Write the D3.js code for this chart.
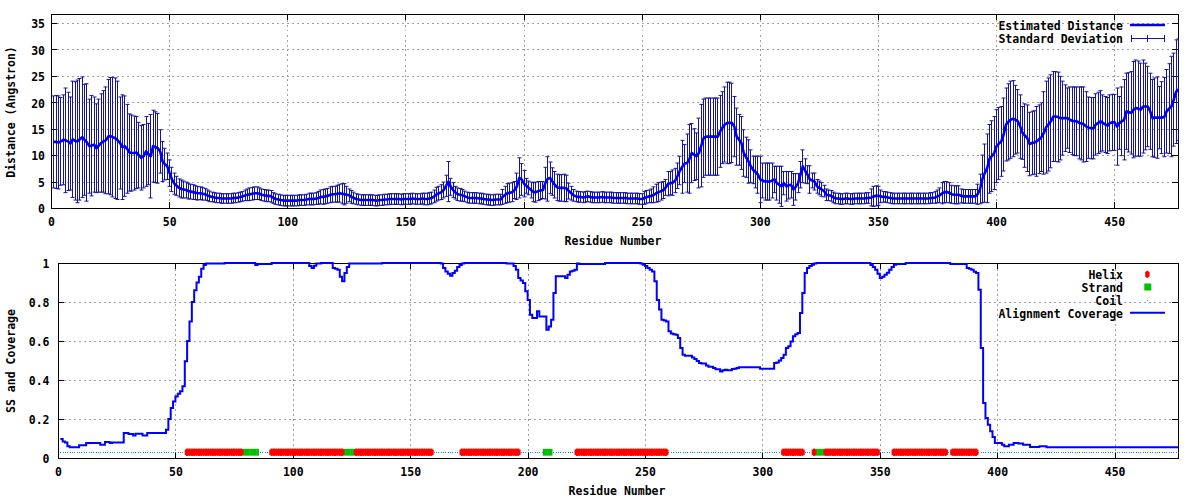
<!DOCTYPE html>
<html><head><meta charset="utf-8">
<script src="https://cdn.jsdelivr.net/npm/d3@7"></script>
<style>
body{margin:0;background:#fff}
text{font-family:"DejaVu Sans Mono","Liberation Mono",monospace;font-weight:bold;font-size:11.5px;fill:#000}
</style>
</head><body>
<svg id="chart" width="1200" height="500"></svg>
<script>
// ---------------- DATA ----------------
const distance = [
12.5,12.5,12.4,12.6,12.9,12.8,12.6,12.2,13.0,12.7,
12.6,13.0,13.4,12.9,12.4,11.7,11.8,12.0,11.3,11.8,
12.3,12.6,12.8,13.5,13.6,13.4,13.2,12.8,12.3,11.5,
11.7,11.2,10.5,10.4,10.4,10.5,10.0,9.5,9.8,10.7,
10.2,9.8,11.7,11.5,11.3,10.7,8.8,8.3,7.9,6.6,
5.4,4.6,4.2,3.8,3.6,3.5,3.4,3.2,3.1,3.0,
2.9,2.8,2.8,2.7,2.6,2.4,2.2,2.1,2.0,1.9,
1.9,1.8,1.8,1.8,1.8,1.8,1.9,1.9,2.0,2.1,
2.2,2.4,2.5,2.6,2.7,2.8,2.8,2.7,2.5,2.4,
2.3,2.3,2.2,1.9,1.7,1.6,1.5,1.4,1.4,1.4,
1.4,1.4,1.4,1.4,1.5,1.5,1.5,1.6,1.7,1.7,
1.7,1.8,1.9,2.1,2.1,2.2,2.3,2.5,2.6,2.6,
2.7,2.8,2.7,2.6,2.5,2.4,2.1,1.9,1.7,1.6,
1.5,1.5,1.5,1.5,1.5,1.5,1.4,1.4,1.5,1.5,
1.6,1.6,1.7,1.7,1.7,1.7,1.7,1.6,1.7,1.7,
1.7,1.7,1.8,1.7,1.7,1.7,1.8,1.7,1.7,1.8,
1.9,2.2,2.6,2.8,3.0,3.4,4.2,5.0,4.0,3.4,
2.9,2.6,2.5,2.4,2.2,2.0,1.9,1.9,1.9,1.9,
1.8,1.8,1.7,1.6,1.6,1.5,1.5,1.6,1.6,1.6,
2.1,2.5,2.8,2.9,3.0,3.4,4.1,5.7,5.4,4.6,
4.2,3.8,3.4,3.0,3.0,3.2,3.3,3.4,4.7,5.5,
5.7,5.0,4.4,3.9,3.8,3.8,3.8,3.7,3.2,2.8,
2.4,2.2,2.1,2.1,2.0,2.1,2.2,2.1,2.0,2.0,
2.0,2.0,2.1,2.0,2.0,2.0,2.0,1.9,1.9,1.9,
1.9,1.9,1.9,1.8,1.8,1.8,1.8,1.8,1.7,1.7,
1.9,2.1,2.2,2.3,2.5,2.8,3.0,3.2,3.4,3.9,
4.6,4.7,4.8,5.2,6.1,7.1,7.8,8.4,8.5,9.3,
10.4,10.1,9.8,10.4,11.8,13.2,13.5,13.5,13.5,13.5,
13.5,13.5,14.5,15.2,15.8,16.1,16.1,16.1,15.4,13.5,
12.9,12.3,10.4,9.6,8.8,7.9,7.2,6.8,6.3,5.4,
5.2,5.0,5.0,5.0,5.2,5.4,4.7,4.4,4.1,4.7,
4.1,4.3,4.4,3.5,4.0,4.7,6.3,7.9,7.0,6.3,
5.4,5.2,5.0,4.1,3.8,3.5,3.2,2.5,2.4,2.3,
2.0,1.8,1.8,1.7,1.7,1.8,1.8,1.7,1.7,1.8,
1.8,1.8,1.8,1.8,1.9,1.9,2.0,2.2,2.3,2.3,
2.2,2.1,2.1,2.0,1.9,1.8,1.8,1.8,1.8,1.8,
1.8,1.8,1.8,1.8,1.8,1.8,1.8,1.8,1.8,1.8,
1.8,1.9,1.9,2.0,2.2,2.4,2.8,3.0,3.0,2.9,
2.6,2.5,2.5,2.5,2.3,2.2,2.2,2.2,2.2,2.2,
2.2,2.6,3.6,5.5,6.6,7.5,9.3,9.8,10.4,11.7,
12.2,12.6,13.9,15.8,16.3,16.7,16.9,16.7,16.4,15.4,
14.2,13.7,13.2,12.1,12.3,12.4,12.6,13.0,13.4,14.2,
15.3,15.8,16.4,17.3,17.3,17.2,17.0,17.0,17.0,17.0,
16.7,16.5,16.4,16.4,16.1,16.0,15.8,15.4,15.2,15.1,
15.1,15.8,16.1,16.4,16.1,15.8,15.6,16.1,16.2,16.2,
15.4,16.1,16.4,16.7,18.3,18.1,18.0,18.6,18.9,18.8,
18.6,19.2,19.2,19.2,18.3,17.0,17.1,17.1,17.1,17.1,
17.2,18.3,18.8,19.2,20.5,22.0,22.4
];
const stdDev = [
8.7,8.8,8.8,8.3,8.5,9.9,9.3,8.8,11.0,11.2,
11.6,11.5,11.4,10.5,11.1,8.9,9.5,9.0,8.4,8.8,
9.3,9.6,10.1,10.8,11.1,11.3,11.4,11.2,8.7,9.9,
9.5,8.4,7.3,7.2,7.0,6.8,6.2,6.1,6.0,6.6,
5.8,7.9,6.8,6.7,6.6,4.1,3.8,3.0,2.5,2.5,
2.3,2.0,1.8,1.7,1.7,1.6,1.5,1.5,1.4,1.4,
1.3,1.3,1.2,1.2,1.1,1.0,1.0,0.9,0.9,0.9,
0.9,0.9,0.9,0.9,0.9,0.9,0.9,0.9,0.9,0.9,
0.9,1.0,1.1,1.2,1.2,1.2,1.2,1.1,1.1,1.1,
1.1,1.1,1.1,1.0,1.0,1.0,1.0,1.0,1.0,1.0,
1.0,1.0,1.0,1.0,1.0,1.0,1.0,1.0,1.1,1.1,
1.1,1.1,1.2,1.3,1.4,1.4,1.4,1.5,1.5,1.5,
1.6,1.7,1.9,2.0,1.6,1.2,1.2,1.1,1.0,1.0,
1.0,1.0,1.0,1.0,1.0,1.0,1.0,1.0,1.0,1.0,
1.0,1.0,1.0,1.0,1.0,1.0,1.0,1.0,1.0,1.0,
1.0,1.0,1.0,1.0,1.0,1.0,1.0,1.1,1.1,1.1,
1.1,1.2,1.3,1.3,1.4,1.5,2.0,3.8,1.6,1.4,
1.2,1.2,1.2,1.1,1.0,1.0,1.0,1.0,1.0,1.0,
1.0,1.0,1.0,1.0,1.0,1.0,1.0,1.0,1.0,1.0,
1.4,1.6,1.8,1.8,1.8,1.6,2.5,3.8,3.0,2.5,
1.4,1.3,1.5,1.8,1.9,1.8,1.7,1.6,3.0,4.2,
3.0,2.6,2.5,2.5,2.5,2.5,2.6,2.5,1.5,1.3,
1.1,1.0,1.0,1.0,1.0,1.0,1.0,1.0,1.0,1.0,
1.0,1.0,1.0,1.0,1.0,1.0,1.0,1.0,1.0,1.0,
1.0,1.0,1.0,1.0,1.0,1.0,1.0,1.0,1.0,1.0,
1.2,1.2,1.2,1.3,1.5,1.7,1.8,1.7,1.6,1.5,
2.3,2.2,2.4,2.3,2.4,2.7,5.0,3.6,5.5,6.5,
5.6,4.9,4.4,6.6,7.8,7.4,7.3,7.3,7.3,7.3,
7.3,7.3,6.8,6.8,7.1,7.7,7.7,7.5,5.7,5.4,
4.8,5.0,4.4,3.8,4.1,3.1,2.6,3.0,3.5,4.4,
3.3,3.5,3.5,3.5,3.3,2.5,3.2,3.5,3.8,2.2,
2.8,2.6,2.5,3.0,2.5,1.8,2.5,3.1,2.3,1.7,
2.6,1.4,1.6,1.3,1.3,1.3,1.1,1.1,1.0,1.0,
1.0,1.0,1.0,1.0,1.0,1.0,1.0,1.0,1.0,1.0,
1.0,1.0,1.0,1.0,1.0,1.0,1.6,1.9,1.9,1.8,
1.2,1.0,1.0,1.0,1.0,1.0,1.0,1.0,1.0,1.0,
1.0,1.0,1.0,1.0,1.0,1.0,1.0,1.0,1.0,1.0,
1.0,1.0,1.0,1.1,1.2,1.4,2.0,2.0,2.0,1.9,
1.7,1.7,1.7,1.7,1.3,1.3,1.3,1.3,1.3,1.3,
1.3,1.9,2.8,4.5,5.5,6.5,6.5,6.7,6.9,6.9,
6.8,6.6,6.9,6.9,7.2,7.3,7.2,6.5,6.0,6.0,
5.0,6.0,6.3,6.0,6.0,6.0,6.6,6.5,6.5,7.8,
8.7,8.8,8.8,8.5,8.5,8.5,7.9,7.0,6.3,5.7,
6.2,6.4,6.5,6.5,6.8,6.9,7.1,6.6,5.8,5.8,
5.8,5.8,5.8,5.8,5.3,5.3,5.3,5.3,5.3,5.3,
7.3,5.0,6.5,7.6,7.2,7.5,7.8,9.1,9.1,9.0,
8.8,8.8,8.2,7.6,7.2,7.3,7.5,7.7,5.9,6.8,
7.5,7.9,8.5,9.5,8.8,9.8,9.6
];
const coverage = [
0.097,0.085,0.080,0.060,0.055,0.055,0.055,0.055,0.065,0.065,
0.065,0.077,0.077,0.077,0.077,0.077,0.077,0.068,0.068,0.082,
0.082,0.077,0.080,0.080,0.080,0.080,0.080,0.128,0.128,0.123,
0.123,0.116,0.125,0.125,0.125,0.116,0.116,0.128,0.128,0.128,
0.128,0.128,0.128,0.128,0.128,0.145,0.200,0.256,0.290,0.316,
0.330,0.342,0.368,0.496,0.600,0.700,0.800,0.860,0.900,0.930,
0.970,0.990,0.997,0.997,0.997,0.997,0.997,0.997,0.997,0.997,
1,1,1,1,1,1,1,1,1,1,
1,1,1,0.990,0.995,0.995,0.995,0.995,0.995,0.995,
1,1,1,1,1,1,1,1,1,1,
1,1,1,1,1,1,0.985,0.974,0.986,0.997,
0.997,1,1,1,1,1,0.974,0.970,0.966,0.930,
0.906,0.949,0.980,0.997,0.997,0.997,0.997,0.997,0.997,0.997,
0.997,0.997,0.997,0.997,0.997,0.997,0.997,1,1,1,
1,1,1,1,1,1,1,1,1,1,
1,1,1,1,1,1,1,1,1,1,
1,1,0.997,0.975,0.957,0.945,0.935,0.949,0.960,0.980,
0.990,0.997,1,1,1,1,1,1,1,1,
1,1,1,1,1,1,1,1,1,1,
0.997,0.997,0.997,0.985,0.966,0.923,0.910,0.897,0.855,0.810,
0.735,0.718,0.718,0.752,0.726,0.726,0.726,0.658,0.675,0.709,
0.846,0.932,0.932,0.932,0.932,0.923,0.940,0.957,0.960,0.966,
0.997,0.995,0.995,0.995,0.995,0.995,0.995,0.995,0.995,0.995,
0.995,0.995,1,1,1,1,1,1,1,1,
1,1,1,1,1,1,1,0.997,0.991,0.985,
0.974,0.965,0.957,0.906,0.810,0.761,0.709,0.705,0.700,0.650,
0.638,0.635,0.632,0.615,0.564,0.530,0.525,0.525,0.525,0.515,
0.508,0.497,0.487,0.484,0.484,0.474,0.468,0.468,0.462,0.455,
0.455,0.444,0.450,0.453,0.450,0.450,0.456,0.458,0.462,0.465,
0.465,0.465,0.465,0.465,0.465,0.465,0.465,0.465,0.458,0.458,
0.458,0.458,0.458,0.458,0.487,0.490,0.500,0.513,0.530,0.564,
0.573,0.598,0.624,0.635,0.641,0.744,0.846,0.949,0.974,0.985,
0.991,0.997,1,1,1,1,1,1,1,1,
1,1,1,1,1,1,1,1,1,1,
1,1,1,1,1,0.990,0.980,0.966,0.945,0.923,
0.930,0.940,0.950,0.966,0.980,0.991,0.995,0.995,0.995,0.995,
1,1,1,1,1,1,1,1,1,1,
1,1,1,1,1,1,1,1,1,0.995,
0.995,0.995,0.995,0.995,0.995,0.995,0.974,0.970,0.966,0.955,
0.949,0.863,0.564,0.282,0.205,0.171,0.137,0.108,0.077,0.077,
0.077,0.068,0.060,0.060,0.068,0.068,0.077,0.077,0.074,0.074,
0.068,0.068,0.068,0.056,0.056,0.056,0.056,0.060,0.060,0.060,
0.055,0.055,0.055,0.055,0.055,0.055,0.055,0.055,0.055,0.055,
0.055,0.055,0.055,0.055,0.055,0.055,0.055,0.055,0.055,0.055,
0.055,0.055,0.055,0.055,0.055,0.055,0.055,0.055,0.055,0.055,
0.055,0.055,0.055,0.055,0.055,0.055,0.055,0.055,0.055,0.055,
0.055,0.055,0.055,0.055,0.055,0.055,0.055,0.055,0.055,0.055,
0.055,0.055,0.055,0.055,0.055,0.055,0.055
];
// secondary structure segments [first residue, last residue]
const helixRanges = [[55,78],[91,121],[127,159],[172,196],[221,259],[309,317],[322,322],[327,349],[356,378],[381,391]];
const strandRanges = [[79,85],[122,126],[207,210],[323,326]];
const ssLevel = 0.03;
const residueMax = 477;
const xTicks = [0,50,100,150,200,250,300,350,400,450];
const yTicksTop = [0,5,10,15,20,25,30,35];
const yTicksBottom = [0,0.2,0.4,0.6,0.8,1];

// ---------------- DRAW ----------------
const svg = d3.select("#chart");
const residues = d3.range(1, distance.length + 1);
const inRanges = (r, ranges) => ranges.some(([a,b]) => r >= a && r <= b);
const ssType = r => inRanges(r, helixRanges) ? "H" : inRanges(r, strandRanges) ? "E" : "C";

const P1 = {l:51, r:1178, t:14, b:208};
const P2 = {l:58, r:1178, t:263, b:458};
const x1 = d3.scaleLinear().domain([0,residueMax]).range([P1.l,P1.r]);
const y1 = d3.scaleLinear().domain([0,36.7]).range([P1.b,P1.t]);
const x2 = d3.scaleLinear().domain([0,residueMax]).range([P2.l,P2.r]);
const y2 = d3.scaleLinear().domain([0,1]).range([P2.b,P2.t]);

const defs = svg.append("defs");
defs.append("clipPath").attr("id","clip1").append("rect")
  .attr("x",P1.l+0.5).attr("y",P1.t+0.5).attr("width",P1.r-P1.l).attr("height",P1.b-P1.t);
defs.append("clipPath").attr("id","clip2").append("rect")
  .attr("x",P2.l+0.5).attr("y",P2.t-4).attr("width",P2.r-P2.l).attr("height",P2.b-P2.t+4);

function frame(P, xs, ys, yTicks, yFmt, labelGap, gridY) {
  const g = svg.append("g");
  // grid
  const grid = g.append("g").attr("stroke","#a0a0a0").attr("stroke-width",1)
    .attr("stroke-dasharray","2,3").attr("shape-rendering","crispEdges");
  grid.selectAll(".gx").data(xTicks.filter(v=>v>0)).join("line")
    .attr("x1",d=>xs(d)+0.5).attr("x2",d=>xs(d)+0.5).attr("y1",P.t+0.5).attr("y2",P.b+0.5);
  grid.selectAll(".gy").data(gridY).join("line")
    .attr("y1",d=>ys(d)+0.5).attr("y2",d=>ys(d)+0.5).attr("x1",P.l+0.5).attr("x2",P.r+0.5);
  // axes (inward ticks, mirrored)
  const ax = (axis, tx, ty, labels) => {
    const a = g.append("g").attr("transform",`translate(${tx},${ty})`).call(axis);
    a.select(".domain").remove();
    a.selectAll("line").attr("stroke","#000").attr("shape-rendering","crispEdges");
    a.selectAll("text").attr("fill","#000").style("font-family",null).style("font-size",null);
    a.attr("font-family",null).attr("font-size",null);
    if (!labels) a.selectAll("text").remove();
    return a;
  };
  const xb = ax(d3.axisBottom(xs).tickValues(xTicks).tickSizeInner(-6).tickSizeOuter(0).tickPadding(0), 0, P.b, true);
  xb.selectAll("text").attr("y", 18).attr("dy", null);
  ax(d3.axisTop(xs).tickValues(xTicks).tickSizeInner(-6).tickSizeOuter(0), 0, P.t, false);
  const yl = ax(d3.axisLeft(ys).tickValues(yTicks).tickFormat(yFmt).tickSizeInner(-6).tickSizeOuter(0), P.l, 0, true);
  yl.selectAll("text").attr("x", -labelGap).attr("dy", null).attr("y", 4.8);
  ax(d3.axisRight(ys).tickValues(yTicks).tickSizeInner(-6).tickSizeOuter(0), P.r, 0, false);
  // border
  g.append("rect").attr("x",P.l+0.5).attr("y",P.t+0.5).attr("width",P.r-P.l).attr("height",P.b-P.t)
    .attr("fill","none").attr("stroke","#000").attr("stroke-width",1).attr("shape-rendering","crispEdges");
  return g;
}

// ---------- Top panel ----------
frame(P1, x1, y1, yTicksTop, d3.format("d"), 6, yTicksTop.filter(v=>v>0));
const barColor = "#1414a0";
const lineColor = "#0000ee";
const gBars = svg.append("g").attr("clip-path","url(#clip1)");
gBars.selectAll("path").data(residues).join("path")
  .attr("d", r => {
    const i = r - 1, x = Math.round(x1(r)) + 0.5;
    const yu = y1(distance[i] + stdDev[i]), yl = y1(distance[i] - stdDev[i]);
    return `M${x},${yl}V${yu}M${x-2},${yu}H${x+2}M${x-2},${yl}H${x+2}`;
  })
  .attr("fill","none").attr("stroke",barColor).attr("stroke-width",1);
svg.append("path").attr("clip-path","url(#clip1)")
  .datum(residues)
  .attr("d", d3.line().x(r=>x1(r)+0.5).y(r=>y1(distance[r-1])))
  .attr("fill","none").attr("stroke",lineColor).attr("stroke-width",2.6).attr("stroke-linejoin","round");

svg.append("text").attr("x",613).attr("y",245).attr("text-anchor","middle").text("Residue Number");
svg.append("text").attr("transform","translate(15,112) rotate(-90)").attr("text-anchor","middle").text("Distance (Angstron)");

// legend top
svg.append("text").attr("x",1123).attr("y",30).attr("text-anchor","end").text("Estimated Distance");
svg.append("line").attr("x1",1130).attr("x2",1165).attr("y1",25).attr("y2",25)
  .attr("stroke",lineColor).attr("stroke-width",2.6);
svg.append("text").attr("x",1123).attr("y",43).attr("text-anchor","end").text("Standard Deviation");
svg.append("path").attr("d","M1131.5,38.5H1164.5M1131.5,35V42M1164.5,35V42M1147.5,35V42")
  .attr("stroke",barColor).attr("stroke-width",1).attr("fill","none").attr("shape-rendering","crispEdges");

// ---------- Bottom panel ----------
frame(P2, x2, y2, yTicksBottom, d3.format("~g"), 8.5, [0.2,0.4,0.6,0.8]);
const gSS = svg.append("g").attr("clip-path","url(#clip2)");
const ySS = y2(ssLevel);
const coilRes = residues.filter(r => ssType(r) === "C");
const helixRes = residues.filter(r => ssType(r) === "H");
const strandRes = residues.filter(r => ssType(r) === "E");
gSS.selectAll(".coil").data(coilRes).join("rect")
  .attr("x", r => Math.round(x2(r))).attr("y", Math.round(ySS)).attr("width",1).attr("height",1)
  .attr("fill","#0a84ff");
gSS.selectAll(".strand").data(strandRes).join("rect")
  .attr("x", r => x2(r) - 1.3).attr("y", ySS - 3.3).attr("width", 2.7).attr("height", 6.8)
  .attr("fill","#00c000");
const helixG = gSS.selectAll(".helix").data(helixRes).join("g");
helixG.append("rect").attr("x", r => x2(r) - 1.1).attr("y", ySS - 3.6).attr("width", 2.2).attr("height", 7.4).attr("fill","#ff0000");
helixG.append("rect").attr("x", r => x2(r) - 2.4).attr("y", ySS - 2.6).attr("width", 4.8).attr("height", 5.4).attr("fill","#ff0000");

svg.append("path").attr("clip-path","url(#clip2)")
  .datum(residues)
  .attr("d", d3.line().curve(d3.curveStepAfter).x(r=>x2(r)).y(r=>y2(coverage[r-1])))
  .attr("fill","none").attr("stroke","#0000ff").attr("stroke-width",2);

svg.append("text").attr("x",617).attr("y",495).attr("text-anchor","middle").text("Residue Number");
svg.append("text").attr("transform","translate(15,361) rotate(-90)").attr("text-anchor","middle").text("SS and Coverage");

// legend bottom
const lg = [["Helix",279.3],["Strand",292],["Coil",304.8],["Alignment Coverage",317.5]];
lg.forEach(([t,y]) => svg.append("text").attr("x",1123).attr("y",y).attr("text-anchor","end").text(t));
svg.append("rect").attr("x",1146.2).attr("y",270.8).attr("width",2.2).attr("height",7).attr("fill","#ff0000");
svg.append("rect").attr("x",1145.2).attr("y",271.8).attr("width",4.4).attr("height",5).attr("fill","#ff0000");
svg.append("rect").attr("x",1144.3).attr("y",283.5).attr("width",7).attr("height",7).attr("fill","#00c000");
svg.append("rect").attr("x",1147).attr("y",300).attr("width",1).attr("height",1).attr("fill","#0a84ff");
svg.append("line").attr("x1",1130).attr("x2",1165).attr("y1",312.7).attr("y2",312.7)
  .attr("stroke","#0000ff").attr("stroke-width",2);
</script>
</body></html>
